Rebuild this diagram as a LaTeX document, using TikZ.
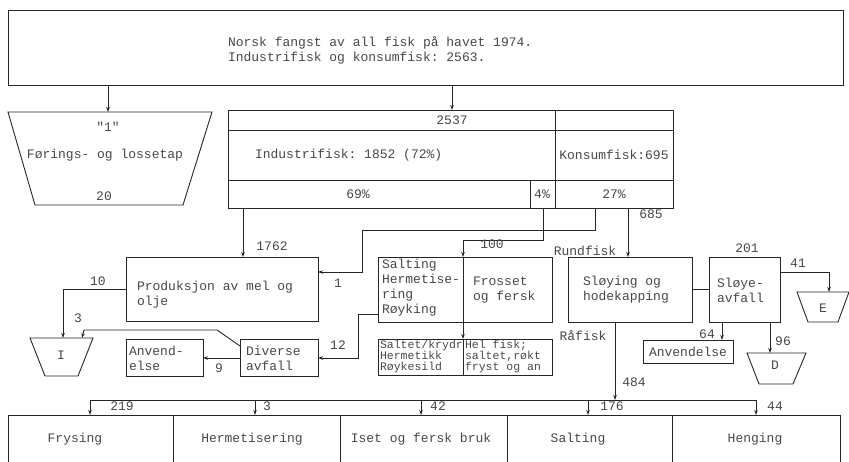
\documentclass[tikz,border=0pt]{standalone}
\usepackage{fontspec}
\setmonofont{Liberation Mono}
\usetikzlibrary{arrows.meta}
\begin{document}
\begin{tikzpicture}[x=1pt,y=-1pt,
  line width=0.9pt,
  every node/.style={font=\ttfamily\fontsize{13}{15}\selectfont, text=black!72, inner sep=0pt, outer sep=0pt},
  box/.style={draw=black!85, anchor=north west},
  txt/.style={align=left, anchor=west},
  small/.style={font=\ttfamily\fontsize{11.5}{11}\selectfont, align=left, anchor=north west},
  arr/.style={draw=black!85, -{Stealth[length=5pt,width=3.5pt]}},
  ln/.style={draw=black!85},
  trap/.style={draw=black!85, line join=miter}
]
\useasboundingbox (0,0) rectangle (849,461);
\clip (0,0) rectangle (849,461);

% ---------- top box ----------
\node[box, minimum width=835pt, minimum height=75pt] (top) at (8,10) {};
\node[txt] (toptxt) at (228,50) {Norsk fangst av all fisk på havet 1974.\\Industrifisk og konsumfisk: 2563.};

% ---------- trapezoid "1" ----------
\draw[trap] (8,112) -- (212,112) -- (183,205) -- (35,205) -- cycle;
\coordinate (t1) at (108,112);
\node (t1a) at (108,127) {"1"};
\node (t1b) at (105,155) {Førings- og lossetap};
\node (t1c) at (104,196) {20};

% ---------- table ----------
\node[box, minimum width=445pt, minimum height=98pt] (tab) at (228,110) {};
\draw[ln] (228,130) -- (673,130);
\draw[ln] (228,180) -- (673,180);
\draw[ln] (555,110) -- (555,208);
\draw[ln] (530,180) -- (530,208);
\node (n2537) at (452,120) {2537};
\node[txt] (ind) at (255,155) {Industrifisk: 1852 (72\%)};
\node (kons) at (614,155) {Konsumfisk:695};
\node (p69) at (358,194) {69\%};
\node (p4) at (542,194) {4\%};
\node (p27) at (614,194) {27\%};

\coordinate (c2537) at (452,110);
\draw[arr] (t1 |- top.south) -- (t1);
\draw[arr] (c2537 |- top.south) -- (c2537);

% ---------- middle row boxes ----------
\node[box, minimum width=192pt, minimum height=64pt] (prod) at (126,257) {};
\node[txt] (prodtxt) at (137,295) {Produksjon av mel og\\olje};

\node[box, minimum width=174pt, minimum height=65pt] (salt) at (378,257) {};
\draw[ln] (463,257) -- (463,322);
\node[txt] (salttxt) at (382,288) {Salting\\Hermetise-\\ring\\Røyking};
\node[txt] (frostxt) at (473,290) {Frosset\\og fersk};

\node[box, minimum width=124pt, minimum height=65pt] (sloy) at (568,257) {};
\node[txt] (sloytxt) at (583,290) {Sløying og\\hodekapping};

\node[box, minimum width=71pt, minimum height=65pt] (sloya) at (709,257) {};
\node[txt] (sloyatxt) at (717,290) {Sløye-\\avfall};

% ---------- lower row ----------
\node[box, minimum width=77pt, minimum height=37pt] (anv1) at (126,339) {};
\node[txt] (anv1txt) at (129,358) {Anvend-\\else};
\node[box, minimum width=78pt, minimum height=37pt] (div) at (240,339) {};
\node[txt] (divtxt) at (246,358) {Diverse\\avfall};

\node[box, minimum width=174pt, minimum height=36pt] (prodb) at (378,339) {};
\draw[ln] (463,339) -- (463,375);
\node[small] (pbl) at (380,340) {Saltet/krydr\\Hermetikk\\Røykesild};
\node[small] (pbr) at (465,340) {Hel fisk;\\saltet,røkt\\fryst og an};

\node[box, minimum width=90pt, minimum height=23pt] (anv2) at (643,340) {};
\node (anv2txt) at (688,352) {Anvendelse};

% ---------- trapezoids I, E, D ----------
\draw[trap] (30,338) -- (93,338) -- (78,376) -- (45,376) -- cycle;
\node (tI) at (61,355) {I};
\draw[trap] (797,292) -- (849,292) -- (838,322) -- (808,322) -- cycle;
\node (tE) at (823,308) {E};
\draw[trap] (747,353) -- (806,353) -- (793,384) -- (759,384) -- cycle;
\node (tD) at (775,365) {D};
\coordinate (cI1) at (63,338);
\coordinate (cI2) at (82,338);
\coordinate (cE) at (829,292);
\coordinate (cD) at (770,353);

% ---------- connectors from table ----------
\coordinate (x69) at (243,0);
\coordinate (x4) at (543,0);
\coordinate (x27a) at (595,0);
\coordinate (x27b) at (628,0);
\coordinate (xsd) at (463,0);
\coordinate (xone) at (362,0);

\draw[arr] (tab.south -| x69) -- (prod.north -| x69);
\node (l1762) at (272,246) {1762};

\draw[arr] (tab.south -| x4) -- ++(0,32) -| (salt.north -| xsd);
\node (l100) at (492,244) {100};
\draw[arr] (salt.south -| xsd) -- (prodb.north -| xsd);

\draw[arr] (tab.south -| x27a) -- ++(0,22) -| ([yshift=-15pt]prod.north east -| xone) -- ([yshift=-15pt]prod.north east);
\node (l1) at (338,283) {1};

\draw[arr] (tab.south -| x27b) -- (sloy.north -| x27b);
\node (l685) at (651,214) {685};
\node (lrund) at (585,251) {Rundfisk};
\node (lraa) at (583,336) {Råfisk};

% ---------- left side connectors ----------
\draw[arr] ([yshift=-32pt]prod.north west) -| (cI1);
\node (l10) at (98,281) {10};

\draw[arr] ([yshift=-7pt]div.north west) -- (217,330) -- (84,330) -- (cI2);
\node (l3) at (78,318) {3};

\draw[arr] ([yshift=-19pt]div.north west) -- ([yshift=-19pt]anv1.north east);
\node (l9) at (219,368) {9};

\draw[arr] ([yshift=-57pt]salt.north west) -- (358,314) -- (358,358) -- ([yshift=-19pt]div.north east);
\node (l12) at (338,345) {12};

% ---------- right side connectors ----------
\draw[ln] ([yshift=-32pt]sloy.north east) -- ([yshift=-32pt]sloya.north west);
\node (l201) at (747,248) {201};

\draw[arr] ([yshift=-15pt]sloya.north east) -| (cE);
\node (l41) at (798,263) {41};

\coordinate (x64) at (722,0);
\draw[arr] (sloya.south -| x64) -- (anv2.north -| x64);
\node (l64) at (707,334) {64};

\draw[arr] (sloya.south -| cD) -- (cD);
\node (l96) at (783,341) {96};

% ---------- bottom row ----------
\node[box, minimum width=165pt, minimum height=60pt] (b1) at (8,415) {};
\node[box, minimum width=167pt, minimum height=60pt] (b2) at (173,415) {};
\node[box, minimum width=167pt, minimum height=60pt] (b3) at (340,415) {};
\node[box, minimum width=165pt, minimum height=60pt] (b4) at (507,415) {};
\node[box, minimum width=168pt, minimum height=60pt] (b5) at (672,415) {};
\node (b1t) at (75,439) {Frysing};
\node (b2t) at (252,439) {Hermetisering};
\node (b3t) at (421,439) {Iset og fersk bruk};
\node (b4t) at (578,439) {Salting};
\node (b5t) at (755,439) {Henging};

\coordinate (x484) at (615,0);
\coordinate (bus) at (615,400);
\draw[arr] (sloy.south -| x484) -- (bus);
\node (l484) at (634,382) {484};

\coordinate (xb1) at (90,0);
\coordinate (xb2) at (255,0);
\coordinate (xb3) at (421,0);
\coordinate (xb4) at (588,0);
\coordinate (xb5) at (756,0);
\draw[ln] (bus -| xb1) -- (bus -| xb5);
\draw[arr] (bus -| xb1) -- (b1.north -| xb1);
\draw[arr] (bus -| xb2) -- (b2.north -| xb2);
\draw[arr] (bus -| xb3) -- (b3.north -| xb3);
\draw[arr] (bus -| xb4) -- (b4.north -| xb4);
\draw[arr] (bus -| xb5) -- (b5.north -| xb5);
\node (l219) at (122,406) {219};
\node (l3b) at (267,406) {3};
\node (l42) at (438,406) {42};
\node (l176) at (612,406) {176};
\node (l44) at (775,406) {44};
\end{tikzpicture}
\end{document}
